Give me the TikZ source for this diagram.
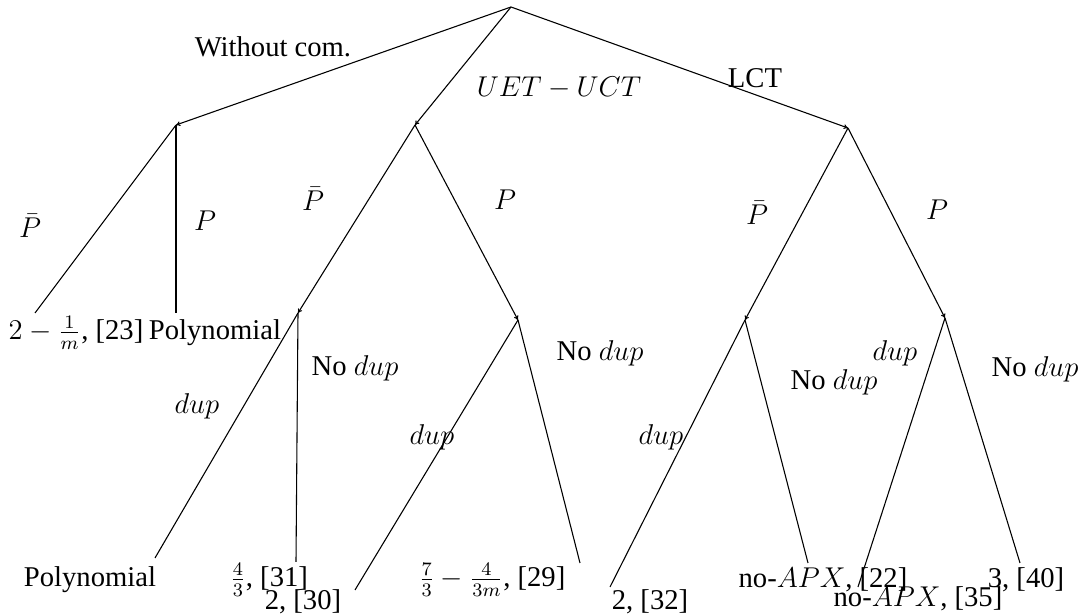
\documentclass[tikz,border=0pt]{standalone}
\usepackage{fontspec}
\setmainfont{Liberation Serif}
\usetikzlibrary{arrows.meta}

\begin{document}
\begin{tikzpicture}[
  x=0.461pt,y=-0.461pt,
  font=\fontsize{12}{14}\selectfont,
  edge/.style={line width=.5pt},
  branch/.style={edge,-{To[length=2pt,width=2.2pt]}},
  leaf/.style={inner sep=1pt,scale=1.1},
  lbl/.style={inner sep=1pt,scale=1.1}
]
  \useasboundingbox (0,0) rectangle (1084,615);

  % inner points of the tree
  \coordinate (root) at (511,7);
  \coordinate (wc) at (176,125);
  \coordinate (uet) at (415,125);
  \coordinate (lct) at (848,128);
  \coordinate (uetpb) at (298,313);
  \coordinate (uetp) at (518,320);
  \coordinate (lctpb) at (745,320);
  \coordinate (lctp) at (945,318);

  % free ends near the leaves
  \coordinate (e1) at (35,313);
  \coordinate (e2) at (176,313);
  \coordinate (e3) at (155,558);
  \coordinate (e4) at (296,562);
  \coordinate (e5) at (355,590);
  \coordinate (e6) at (580,563);
  \coordinate (e7) at (610,587);
  \coordinate (e8) at (808,563);
  \coordinate (e9) at (858,587);
  \coordinate (e10) at (1020,563);

  % leaves
  \node[leaf] (l1) at (76,333) {$2-\frac{1}{m}$, [23]};
  \node[leaf] (l2) at (215,333) {Polynomial};
  \node[leaf] (l3) at (90,580) {Polynomial};
  \node[leaf] (l4) at (269,580) {$\frac{4}{3}$, [31]};
  \node[leaf] (l5) at (303,602) {2, [30]};
  \node[leaf] (l6) at (492,580) {$\frac{7}{3}-\frac{4}{3m}$, [29]};
  \node[leaf] (l7) at (650,602) {2, [32]};
  \node[leaf] (l8) at (823,580) {no-$APX$, [22]};
  \node[leaf] (l9) at (918,599) {no-$APX$, [35]};
  \node[leaf] (l10) at (1026,580) {3, [40]};

  % edges
  \draw[branch] (root) -- (wc);
  \draw[branch] (root) -- (uet);
  \draw[branch] (root) -- (lct);
  \draw[edge] (wc) -- (e1);
  \draw[edge] (wc) -- (e2);
  \draw[branch] (uet) -- (uetpb);
  \draw[branch] (uet) -- (uetp);
  \draw[branch] (lct) -- (lctpb);
  \draw[branch] (lct) -- (lctp);
  \draw[edge] (uetpb) -- (e3);
  \draw[edge] (uetpb) -- (e4);
  \draw[edge] (uetp) -- (e5);
  \draw[edge] (uetp) -- (e6);
  \draw[edge] (lctpb) -- (e7);
  \draw[edge] (lctpb) -- (e8);
  \draw[edge] (lctp) -- (e9);
  \draw[edge] (lctp) -- (e10);

  % edge labels
  \node[lbl] (t1) at (273,47) {Without com.};
  \node[lbl] (t2) at (559,88) {$UET-UCT$};
  \node[lbl] (t3) at (755,78) {LCT};
  \node[lbl] (t4) at (30,226) {$\bar{P}$};
  \node[lbl] (t5) at (205,221) {$P$};
  \node[lbl] (t6) at (313,199) {$\bar{P}$};
  \node[lbl] (t7) at (505,200) {$P$};
  \node[lbl] (t8) at (757,213) {$\bar{P}$};
  \node[lbl] (t9) at (937,210) {$P$};
  \node[lbl] (t10) at (197,406) {$dup$};
  \node[lbl] (t11) at (355,368) {No $dup$};
  \node[lbl] (t12) at (432,437) {$dup$};
  \node[lbl] (t13) at (600,353) {No $dup$};
  \node[lbl] (t14) at (661,437) {$dup$};
  \node[lbl] (t15) at (834,382) {No $dup$};
  \node[lbl] (t16) at (895,353) {$dup$};
  \node[lbl] (t17) at (1035,369) {No $dup$};
\end{tikzpicture}
\end{document}
